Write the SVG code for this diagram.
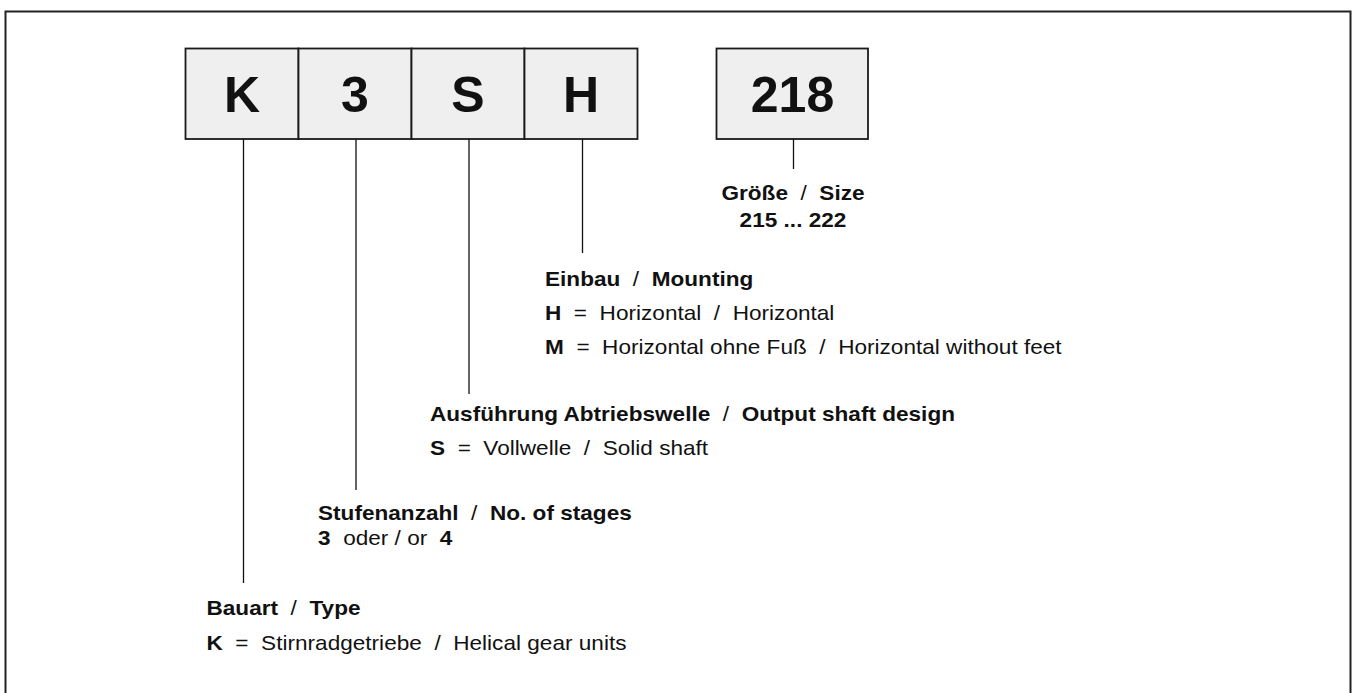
<svg xmlns="http://www.w3.org/2000/svg" width="1352" height="693" viewBox="0 0 1352 693" xml:space="preserve">
<style>
.t{font-family:"Liberation Sans",Arial,Helvetica,sans-serif;font-size:20px;fill:#111;white-space:pre}
.b{font-weight:bold}
.box{fill:#efefef;stroke:#1a1a1a;stroke-width:1.8}
.big{font-family:"Liberation Sans",Arial,Helvetica,sans-serif;font-size:50px;font-weight:bold;text-anchor:middle;fill:#111}
.ln{stroke:#111;stroke-width:1.3;fill:none}
.frame{fill:none;stroke:#222;stroke-width:2}
</style>
<rect class="frame" x="5.5" y="11.5" width="1345" height="720"/>
<g id="node-K"><rect class="box" x="185.5" y="48.5" width="113" height="90.5"/><text class="big" x="242" y="111.5">K</text></g>
<g id="node-3"><rect class="box" x="298.5" y="48.5" width="113" height="90.5"/><text class="big" x="355" y="111.5">3</text></g>
<g id="node-S"><rect class="box" x="411.5" y="48.5" width="113" height="90.5"/><text class="big" x="468" y="111.5">S</text></g>
<g id="node-H"><rect class="box" x="524.5" y="48.5" width="113" height="90.5"/><text class="big" x="581" y="111.5">H</text></g>
<g id="node-218"><rect class="box" x="716.5" y="48.5" width="151.5" height="90.5"/><text class="big" x="792.5" y="111.5">218</text></g>
<g id="connectors">
<line class="ln" x1="243.5" y1="139" x2="243.5" y2="583"/>
<line class="ln" x1="356" y1="139" x2="356" y2="490"/>
<line class="ln" x1="469" y1="139" x2="469" y2="394"/>
<line class="ln" x1="582.5" y1="139" x2="582.5" y2="253"/>
<line class="ln" x1="793.5" y1="139" x2="793.5" y2="169"/>
</g>
<g id="label-size">
<text class="t" text-anchor="middle" transform="matrix(1.13,0,0,1,793,200)"><tspan class="b">Größe</tspan>  /  <tspan class="b">Size</tspan></text>
<text class="t b" text-anchor="middle" transform="matrix(1.13,0,0,1,793,227)">215 ... 222</text>
</g>
<g id="label-mounting">
<text class="t" transform="matrix(1.13,0,0,1,545,286)"><tspan class="b">Einbau</tspan>  /  <tspan class="b">Mounting</tspan></text>
<text class="t" transform="matrix(1.13,0,0,1,545,320)"><tspan class="b">H</tspan>  =  Horizontal  /  Horizontal</text>
<text class="t" transform="matrix(1.13,0,0,1,545,354)"><tspan class="b">M</tspan>  =  Horizontal ohne Fuß  /  Horizontal without feet</text>
</g>
<g id="label-shaft">
<text class="t" transform="matrix(1.13,0,0,1,430,421)"><tspan class="b">Ausführung Abtriebswelle</tspan>  /  <tspan class="b">Output shaft design</tspan></text>
<text class="t" transform="matrix(1.13,0,0,1,430,455)"><tspan class="b">S</tspan>  =  Vollwelle  /  Solid shaft</text>
</g>
<g id="label-stages">
<text class="t" transform="matrix(1.13,0,0,1,318,520)"><tspan class="b">Stufenanzahl</tspan>  /  <tspan class="b">No. of stages</tspan></text>
<text class="t" transform="matrix(1.13,0,0,1,318,545)"><tspan class="b">3</tspan>  oder / or  <tspan class="b">4</tspan></text>
</g>
<g id="label-type">
<text class="t" transform="matrix(1.13,0,0,1,206.5,615)"><tspan class="b">Bauart</tspan>  /  <tspan class="b">Type</tspan></text>
<text class="t" transform="matrix(1.13,0,0,1,206.5,650)"><tspan class="b">K</tspan>  =  Stirnradgetriebe  /  Helical gear units</text>
</g>
</svg>
